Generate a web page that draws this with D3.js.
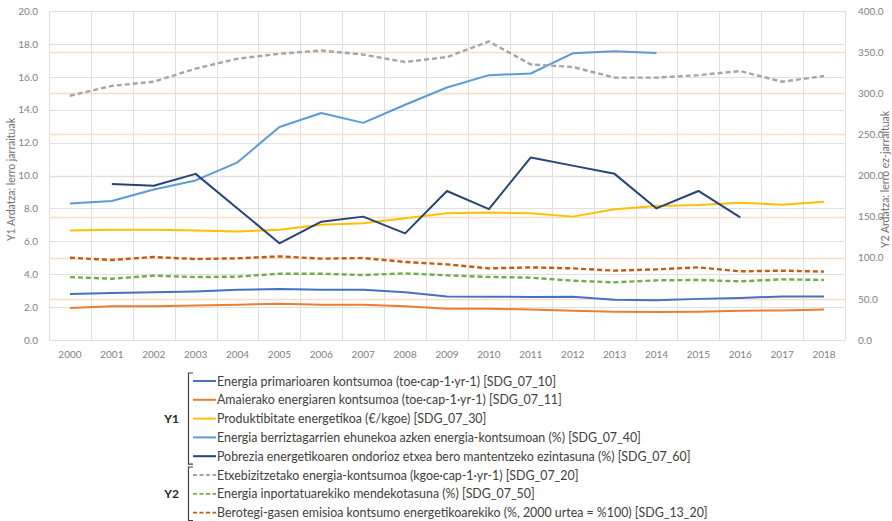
<!DOCTYPE html>
<html>
<head>
<meta charset="utf-8">
<script src="https://cdn.jsdelivr.net/npm/d3@7"></script>
<style>
  body { margin: 0; background: #fff; }
  text { font-family: Lato, "Open Sans", sans-serif; }
</style>
</head>
<body>
<svg id="chart" width="892" height="521"></svg>
<script>
// ===== DATUAK =====

const years = ["2000","2001","2002","2003","2004","2005","2006","2007","2008","2009",
  "2010","2011","2012","2013","2014","2015","2016","2017","2018"];

// Y1 ardatza (lerro jarraituak)
const primaryEnergy = [2.8, 2.85, 2.9, 2.95, 3.05, 3.1, 3.05, 3.05, 2.9, 2.65,
  2.63, 2.62, 2.63, 2.45, 2.42, 2.5, 2.55, 2.65, 2.65];
const finalEnergy = [1.95, 2.05, 2.05, 2.1, 2.15, 2.2, 2.15, 2.15, 2.05, 1.9,
  1.9, 1.85, 1.78, 1.72, 1.7, 1.72, 1.78, 1.8, 1.85];
const productivity = [6.65, 6.7, 6.7, 6.65, 6.6, 6.7, 7.0, 7.1, 7.4, 7.7,
  7.75, 7.7, 7.5, 7.95, 8.15, 8.2, 8.35, 8.22, 8.4];
const renewables = [8.3, 8.45, 9.15, 9.7, 10.8, 12.95, 13.8, 13.2, 14.3, 15.35,
  16.1, 16.2, 17.43, 17.55, 17.45, null, null, null, null];
const poverty = [null, 9.48, 9.38, 10.1, 8.0, 5.88, 7.19, 7.5, 6.48, 9.06,
  7.96, 11.1, 10.6, 10.1, 8.0, 9.06, 7.46, null, null];

// Y2 ardatza (lerro ez-jarraituak)
const household = [297, 309, 314, 330, 342, 348, 352, 347, 338, 344,
  363, 335, 332, 319, 319, 322, 327, 314, 321];
const importDep = [76.5, 74.5, 78.2, 76.5, 77, 80.6, 80.6, 79, 81, 78.6,
  76.6, 75.8, 72.1, 70.1, 72.5, 73, 71.3, 73.7, 73];
const ghg = [100, 97.3, 100.9, 98.5, 99.3, 101.7, 98.9, 99.7, 94.8, 92,
  87.1, 88.3, 87.1, 84.3, 85.9, 88.3, 83.5, 84.3, 83.1];

const y1Ticks = [0, 2, 4, 6, 8, 10, 12, 14, 16, 18, 20];
const y2Ticks = [0, 50, 100, 150, 200, 250, 300, 350, 400];

const series = [
  { name: "Energia primarioaren kontsumoa (toe·cap-1·yr-1) [SDG_07_10]", values: primaryEnergy, axis: 1, color: "#4472c4", dashed: false },
  { name: "Amaierako energiaren kontsumoa (toe·cap-1·yr-1) [SDG_07_11]", values: finalEnergy, axis: 1, color: "#ed7d31", dashed: false },
  { name: "Produktibitate energetikoa (€/kgoe) [SDG_07_30]", values: productivity, axis: 1, color: "#ffc000", dashed: false },
  { name: "Energia berriztagarrien ehunekoa azken energia-kontsumoan (%) [SDG_07_40]", values: renewables, axis: 1, color: "#5b9bd5", dashed: false },
  { name: "Pobrezia energetikoaren ondorioz etxea bero mantentzeko ezintasuna (%) [SDG_07_60]", values: poverty, axis: 1, color: "#264478", dashed: false },
  { name: "Etxebizitzetako energia-kontsumoa (kgoe·cap-1·yr-1) [SDG_07_20]", values: household, axis: 2, color: "#a5a5a5", dashed: true },
  { name: "Energia inportatuarekiko mendekotasuna (%) [SDG_07_50]", values: importDep, axis: 2, color: "#70ad47", dashed: true },
  { name: "Berotegi-gasen emisioa kontsumo energetikoarekiko (%, 2000 urtea = %100) [SDG_13_20]", values: ghg, axis: 2, color: "#c55a11", dashed: true }
];

// ===== ESKALAK =====

const svg = d3.select("#chart");
const plot = { left: 49, right: 845, top: 11, bottom: 340 };

const x = d3.scaleBand().domain(years).range([plot.left, plot.right]);
const y1 = d3.scaleLinear().domain([0, 20]).range([plot.bottom, plot.top]);
const y2 = d3.scaleLinear().domain([0, 400]).range([plot.bottom, plot.top]);

// ===== SAREA =====

const grid = svg.append("g");

// Y2 sarea (laranja argia)
grid.selectAll(".g2")
  .data(y2Ticks.filter(d => d > 0 && d < 400))
  .join("line")
  .attr("x1", plot.left).attr("x2", plot.right)
  .attr("y1", d => Math.round(y2(d)) + 0.5).attr("y2", d => Math.round(y2(d)) + 0.5)
  .attr("stroke", "#fbdcc6").attr("stroke-width", 1.3);

// Y1 sarea (grisa)
grid.selectAll(".g1")
  .data(y1Ticks)
  .join("line")
  .attr("x1", plot.left).attr("x2", plot.right)
  .attr("y1", d => Math.round(y1(d)) + 0.5).attr("y2", d => Math.round(y1(d)) + 0.5)
  .attr("stroke", "#e0e0e0").attr("stroke-width", 1);

// bertikalak
const vBounds = years.map(d => x(d)).concat([x.range()[1]]);
grid.selectAll(".gv")
  .data(vBounds)
  .join("line")
  .attr("x1", d => Math.round(d) + 0.5).attr("x2", d => Math.round(d) + 0.5)
  .attr("y1", plot.top).attr("y2", plot.bottom)
  .attr("stroke", "#e0e0e0");

// ===== ARDATZAK =====

const axisColor = "#7f7f7f";

const yAxisL = svg.append("g")
  .attr("transform", `translate(${plot.left - 8},0)`)
  .call(d3.axisLeft(y1).tickValues(y1Ticks).tickFormat(d3.format(".1f")).tickSize(0));
const yAxisR = svg.append("g")
  .attr("transform", `translate(${plot.right + 10},0)`)
  .call(d3.axisRight(y2).tickValues(y2Ticks).tickFormat(d3.format(".1f")).tickSize(0));
const xAxis = svg.append("g")
  .attr("transform", `translate(0,${plot.bottom + 8})`)
  .call(d3.axisBottom(x).tickSize(0));

[yAxisL, yAxisR, xAxis].forEach(a => {
  a.select(".domain").remove();
  a.selectAll("text").attr("fill", axisColor).style("font-size", "10px");
});

svg.append("text")
  .attr("transform", `translate(15,${(plot.top + plot.bottom) / 2 + 4}) rotate(-90)`)
  .attr("text-anchor", "middle")
  .attr("fill", "#6f6f6f")
  .style("font-size", "10.5px")
  .text("Y1 Ardatza: lerro jarraituak");

svg.append("text")
  .attr("transform", `translate(889,${(plot.top + plot.bottom) / 2 + 4}) rotate(-90)`)
  .attr("text-anchor", "middle")
  .attr("fill", "#6f6f6f")
  .style("font-size", "10.5px")
  .text("Y2 Ardatza: lerro ez-jarraituak");

// ===== LERROAK =====

const lines = svg.append("g");
series.forEach(s => {
  const yScale = s.axis === 1 ? y1 : y2;
  const line = d3.line()
    .defined(d => d != null)
    .x((d, i) => x(years[i]) + x.bandwidth() / 2)
    .y(d => yScale(d));
  lines.append("path")
    .datum(s.values)
    .attr("fill", "none")
    .attr("stroke", s.color)
    .attr("stroke-width", s.dashed ? 2.4 : 2)
    .attr("stroke-dasharray", s.dashed ? "5,3" : null)
    .attr("stroke-linejoin", "round")
    .attr("d", line);
});

// ===== LEGENDA =====

const legend = svg.append("g");
const rowY = d3.scaleLinear().domain([0, 1]).range([381, 399.8]);
const textColor = "#404040";

series.forEach((s, i) => {
  const yy = rowY(i);
  legend.append("line")
    .attr("x1", 193).attr("x2", 216)
    .attr("y1", yy).attr("y2", yy)
    .attr("stroke", s.color)
    .attr("stroke-width", s.dashed ? 1.8 : 2)
    .attr("stroke-dasharray", s.dashed ? "4,2.5" : null);
  legend.append("text")
    .attr("x", 217).attr("y", yy + 4.5)
    .attr("fill", textColor)
    .style("font-size", "12.4px")
    .text(s.name);
});

// giltzak
function bracket(yTop, yBot) {
  legend.append("path")
    .attr("d", `M193,${yTop} H188.5 V${yBot} H193`)
    .attr("fill", "none")
    .attr("stroke", "#404040")
    .attr("stroke-width", 1.2);
}
bracket(rowY(0) - 8, rowY(4) + 8);
bracket(rowY(5) - 8, rowY(7) + 8);

legend.append("text")
  .attr("x", 179).attr("y", rowY(2) + 4.5)
  .attr("text-anchor", "end")
  .attr("fill", "#262626")
  .style("font-size", "12px").style("font-weight", "bold")
  .text("Y1");
legend.append("text")
  .attr("x", 179).attr("y", rowY(6) + 4.5)
  .attr("text-anchor", "end")
  .attr("fill", "#262626")
  .style("font-size", "12px").style("font-weight", "bold")
  .text("Y2");
</script>
</body>
</html>
